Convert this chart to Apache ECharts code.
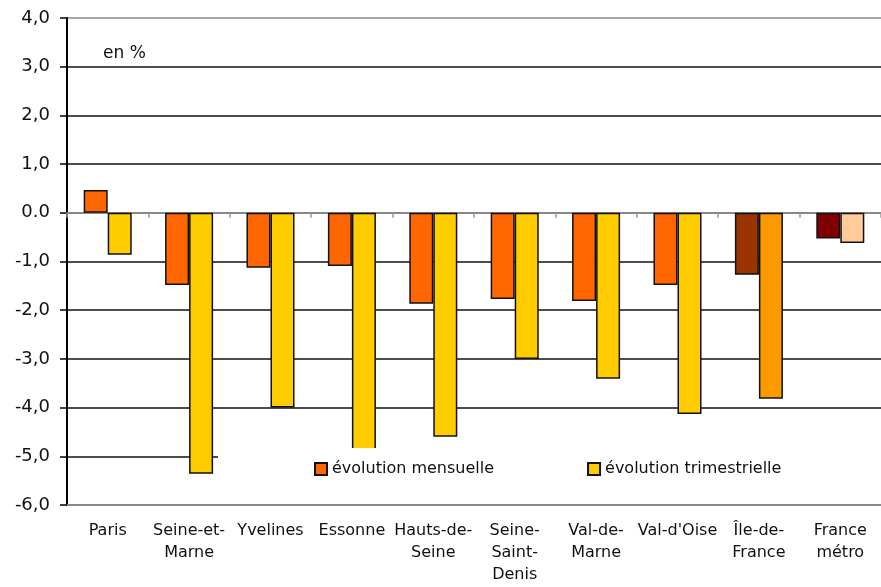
<!DOCTYPE html>
<html>
<head>
<meta charset="utf-8">
<script src="https://cdn.jsdelivr.net/npm/echarts@6/dist/echarts.min.js"></script>
<style>html,body{margin:0;padding:0;background:#fff}#c{width:881px;height:587px}</style>
</head>
<body>
<div id="c"></div>
<script>
var categories = ['Paris', 'Seine-et-\nMarne', 'Yvelines', 'Essonne', 'Hauts-de-\nSeine', 'Seine-\nSaint-\nDenis', 'Val-de-\nMarne', "Val-d'Oise", 'Île-de-\nFrance', 'France\nmétro'];
var mensuelle = [0.47, -1.48, -1.13, -1.09, -1.87, -1.77, -1.81, -1.48, -1.27, -0.53];
var trimestrielle = [-0.86, -5.36, -4.0, -4.9, -4.6, -3.0, -3.41, -4.13, -3.82, -0.62];
var mensColors = ['#FF6600','#FF6600','#FF6600','#FF6600','#FF6600','#FF6600','#FF6600','#FF6600','#993300','#800000'];
var trimColors = ['#FFCC00','#FFCC00','#FFCC00','#FFCC00','#FFCC00','#FFCC00','#FFCC00','#FFCC00','#FF9900','#FFCC99'];
var yTickValues = [-6, -5, -4, -3, -2, -1, 0, 1, 2, 3, 4];
var yTickLabels = ['-6,0', '-5,0', '-4,0', '-3,0', '-2,0', '-1,0', '0.0', '1,0', '2,0', '3,0', '4,0'];
var seriesNames = ['évolution mensuelle', 'évolution trimestrielle'];

var font = 'DejaVu Sans';
var chart = echarts.init(document.getElementById('c'));
function mk(vals, cols) {
  return vals.map(function (v, i) {
    return { value: v, itemStyle: { color: cols[i] } };
  });
}
var option = {
  animation: false,
  textStyle: { fontFamily: font },
  grid: { left: 67, right: 0, top: 18, bottom: 82 },
  xAxis: [
    {
      type: 'category', data: categories, position: 'bottom',
      axisLine: { onZero: false, lineStyle: { color: '#888', width: 2 } },
      axisTick: { show: false },
      axisLabel: { color: '#111', fontSize: 16, lineHeight: 22, margin: 15, interval: 0, fontFamily: font }
    },
    {
      type: 'category', data: categories, position: 'bottom',
      axisLine: { onZero: true, lineStyle: { color: '#888', width: 2 } },
      axisTick: { show: true, length: 5, lineStyle: { color: '#999', width: 1.5 } },
      axisLabel: { show: false }
    }
  ],
  yAxis: {
    type: 'value', min: -6, max: 4, interval: 1,
    axisLine: { show: true, onZero: false, lineStyle: { color: '#000', width: 2 } },
    axisTick: { show: true, length: 7, lineStyle: { color: '#000', width: 1.5 } },
    axisLabel: {
      color: '#111', fontSize: 18, margin: 17, fontFamily: font,
      formatter: function (v) { var i = yTickValues.indexOf(v); return i >= 0 ? yTickLabels[i] : ''; }
    },
    splitLine: { show: true, lineStyle: { width: 1.5, color: ['#888', '#111', '#111', '#111', '#111', '#111', '#888', '#111', '#111', '#111', '#888'] } }
  },
  legend: {
    left: 218, top: 448,
    width: 500,
    orient: 'horizontal',
    padding: [13, 103, 13, 96],
    itemGap: 93,
    itemWidth: 12, itemHeight: 12,
    backgroundColor: '#fff',
    icon: 'rect',
    textStyle: { color: '#111', fontSize: 16, fontFamily: font },
    data: seriesNames,
    z: 10
  },
  graphic: [
    { type: 'text', left: 103, top: 45, style: { text: 'en %', fill: '#111', fontSize: 17, fontFamily: font } }
  ],
  series: [
    {
      name: seriesNames[0], type: 'bar', xAxisIndex: 0, data: mk(mensuelle, mensColors),
      barGap: '0%', barCategoryGap: '41%',
      itemStyle: { color: '#FF6600', borderColor: '#111', borderWidth: 1.5 }
    },
    {
      name: seriesNames[1], type: 'bar', xAxisIndex: 0, data: mk(trimestrielle, trimColors),
      barGap: '0%', barCategoryGap: '41%',
      itemStyle: { color: '#FFCC00', borderColor: '#111', borderWidth: 1.5 }
    }
  ]
};
chart.setOption(option);
</script>
</body>
</html>
